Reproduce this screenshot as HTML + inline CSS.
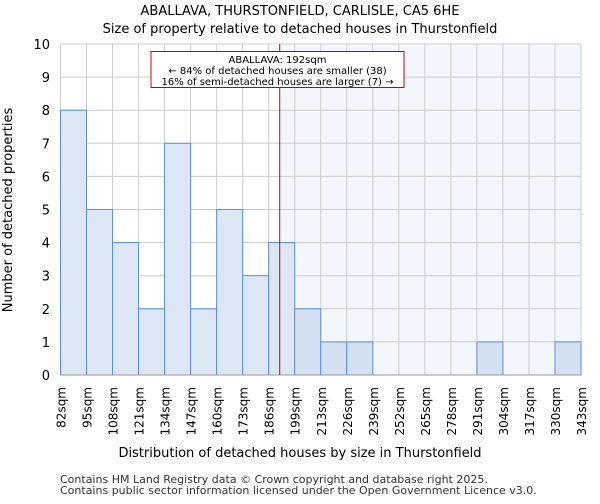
<!DOCTYPE html>
<html><head><meta charset="utf-8"><style>
body{margin:0;background:#fff;font-family:"DejaVu Sans","Liberation Sans",sans-serif}
</style></head><body>
<svg width="600" height="500" xmlns="http://www.w3.org/2000/svg" font-family="DejaVu Sans, Liberation Sans, sans-serif">
<g id="chart"></g>
</svg>
<script>
const binLabels=["82sqm","95sqm","108sqm","121sqm","134sqm","147sqm","160sqm","173sqm","186sqm","199sqm","213sqm","226sqm","239sqm","252sqm","265sqm","278sqm","291sqm","304sqm","317sqm","330sqm","343sqm"];
const binStarts=[82,95,108,121,134,147,160,173,186,199,213,226,239,252,265,278,291,304,317,330,343];
const counts=[8,5,4,2,7,2,5,3,4,2,1,1,0,0,0,0,1,0,0,1];
const yTicks=[0,1,2,3,4,5,6,7,8,9,10];
const markerValue=192;
const NS="http://www.w3.org/2000/svg";
const g=document.getElementById('chart');
const L=60.5,R=581,T=44,B=375,N=counts.length,bw=(R-L)/N;
const x=i=>L+i*bw;
const y=v=>B-(B-T)*v/10;
const xv=v=>{for(let i=0;i<N;i++){if(v<binStarts[i+1]){return x(i)+bw*(v-binStarts[i])/(binStarts[i+1]-binStarts[i]);}}return R;};
function el(t,a,txt){const e=document.createElementNS(NS,t);for(const k in a)e.setAttribute(k,a[k]);if(txt!==undefined)e.textContent=txt;g.appendChild(e);return e;}
const mx=xv(markerValue)-1;
let e;
e=el('rect',{x:mx,y:T,width:R-mx,height:B-T,fill:'#f3f6fd'});


yTicks.forEach(v=>{
 e=el('line',{x1:L,x2:R,y1:y(v),y2:y(v),stroke:'#cccccc','stroke-width':1});
 
 
 e=el('text',{x:50,y:y(v)+5,'text-anchor':'end','font-size':13,fill:'#000'},v);
 
 
});
for(let i=0;i<=N;i++){
 e=el('line',{x1:x(i),x2:x(i),y1:T,y2:B,stroke:'#cccccc','stroke-width':1});
 
 
 e=el('text',{transform:`translate(${x(i)+5},387) rotate(-90)`,'text-anchor':'end','font-size':12,fill:'#000'},binLabels[i]);
 
 
}
counts.forEach((c,i)=>{
 if(c<=0)return;
 e=el('rect',{x:x(i),y:y(c),width:bw,height:B-y(c),fill:x(i)>=mx-1?'#d3e0f2':'#dce6f4',stroke:'#5b8fd6','stroke-width':1});
 
 
});
e=el('line',{x1:L,x2:R,y1:B,y2:B,stroke:'#999','stroke-width':1});


e=el('line',{x1:mx,x2:mx,y1:T,y2:B,stroke:'#cc0000','stroke-width':1});


e=el('rect',{x:151,y:51.5,width:253,height:36,fill:'#fff',stroke:'#cc0000','stroke-width':1});


[["ABALLAVA: 192sqm",63],["← 84% of detached houses are smaller (38)",74],["16% of semi-detached houses are larger (7) →",85]].forEach(a=>{
 e=el('text',{x:277.5,y:a[1],'text-anchor':'middle','font-size':10,fill:'#000'},a[0]);
 
 
});
e=el('text',{x:300,y:15,'text-anchor':'middle','font-size':13},'ABALLAVA, THURSTONFIELD, CARLISLE, CA5 6HE');


e=el('text',{x:300,y:33,'text-anchor':'middle','font-size':13},'Size of property relative to detached houses in Thurstonfield');


e=el('text',{x:300,y:457,'text-anchor':'middle','font-size':13},'Distribution of detached houses by size in Thurstonfield');


e=el('text',{transform:'translate(12,210) rotate(-90)','text-anchor':'middle','font-size':13},'Number of detached properties');


e=el('text',{x:60,y:483,'font-size':11,fill:'#333'},'Contains HM Land Registry data © Crown copyright and database right 2025.');


e=el('text',{x:60,y:494,'font-size':11,fill:'#333'},'Contains public sector information licensed under the Open Government Licence v3.0.');


</script>
</body></html>
